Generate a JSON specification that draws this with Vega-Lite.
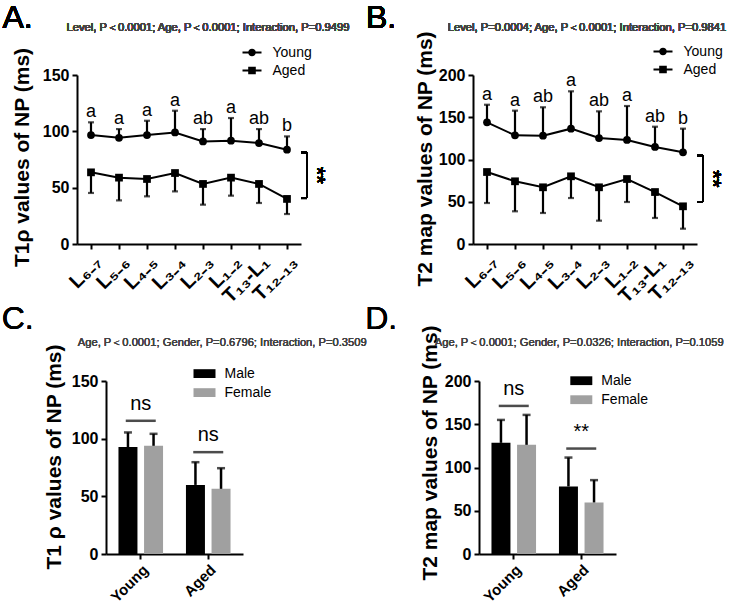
{
  "$schema": "https://vega.github.io/schema/vega-lite/v6.json",
  "background": "white",
  "padding": {"left": 1, "top": 1, "right": 0, "bottom": 0},
  "config": {
    "font": "Liberation Sans",
    "view": {"stroke": null},
    "axis": {"grid": false, "domainColor": "black", "domainWidth": 2, "tickColor": "black", "tickWidth": 2, "tickSize": 5, "labelColor": "black", "titleColor": "black", "labelFont": "Liberation Sans", "titleFont": "Liberation Sans", "labelFontWeight": "bold", "titleFontWeight": "bold", "labelFontSize": 16, "titleFontSize": 21, "labelPadding": 3},
    "legend": {"labelFont": "Liberation Sans", "labelFontSize": 14, "labelColor": "black", "padding": 0},
    "text": {"fontWeight": "normal"}
  },
  "datasets": {
    "lineA": [
      {"level": "L₆₋₇", "group": "Young", "mean": 96.7, "err": 108, "sig": "a"},
      {"level": "L₅₋₆", "group": "Young", "mean": 94.3, "err": 102, "sig": "a"},
      {"level": "L₄₋₅", "group": "Young", "mean": 96.7, "err": 109.4, "sig": "a"},
      {"level": "L₃₋₄", "group": "Young", "mean": 99, "err": 118.3, "sig": "a"},
      {"level": "L₂₋₃", "group": "Young", "mean": 91, "err": 102, "sig": "ab"},
      {"level": "L₁₋₂", "group": "Young", "mean": 91.7, "err": 111.8, "sig": "a"},
      {"level": "T₁₃-L₁", "group": "Young", "mean": 89.6, "err": 102, "sig": "ab"},
      {"level": "T₁₂₋₁₃", "group": "Young", "mean": 83.7, "err": 95.5, "sig": "b"},
      {"level": "L₆₋₇", "group": "Aged", "mean": 63.6, "err": 45.3, "sig": ""},
      {"level": "L₅₋₆", "group": "Aged", "mean": 58.9, "err": 38.7, "sig": ""},
      {"level": "L₄₋₅", "group": "Aged", "mean": 57.7, "err": 42.3, "sig": ""},
      {"level": "L₃₋₄", "group": "Aged", "mean": 63, "err": 46.7, "sig": ""},
      {"level": "L₂₋₃", "group": "Aged", "mean": 53.3, "err": 34.9, "sig": ""},
      {"level": "L₁₋₂", "group": "Aged", "mean": 58.9, "err": 42.9, "sig": ""},
      {"level": "T₁₃-L₁", "group": "Aged", "mean": 53.3, "err": 36.4, "sig": ""},
      {"level": "T₁₂₋₁₃", "group": "Aged", "mean": 40, "err": 26.6, "sig": ""}
    ],
    "lineB": [
      {"level": "L₆₋₇", "group": "Young", "mean": 144, "err": 164.8, "sig": "a"},
      {"level": "L₅₋₆", "group": "Young", "mean": 128.6, "err": 157.8, "sig": "a"},
      {"level": "L₄₋₅", "group": "Young", "mean": 128.2, "err": 161.8, "sig": "ab"},
      {"level": "L₃₋₄", "group": "Young", "mean": 136.5, "err": 180.7, "sig": "a"},
      {"level": "L₂₋₃", "group": "Young", "mean": 125.4, "err": 157, "sig": "ab"},
      {"level": "L₁₋₂", "group": "Young", "mean": 123.1, "err": 163.3, "sig": "a"},
      {"level": "T₁₃-L₁", "group": "Young", "mean": 114.8, "err": 138.8, "sig": "ab"},
      {"level": "T₁₂₋₁₃", "group": "Young", "mean": 108.5, "err": 136.5, "sig": "b"},
      {"level": "L₆₋₇", "group": "Aged", "mean": 85.2, "err": 48.5, "sig": ""},
      {"level": "L₅₋₆", "group": "Aged", "mean": 74.2, "err": 38.7, "sig": ""},
      {"level": "L₄₋₅", "group": "Aged", "mean": 67.1, "err": 36.7, "sig": ""},
      {"level": "L₃₋₄", "group": "Aged", "mean": 80.1, "err": 54.4, "sig": ""},
      {"level": "L₂₋₃", "group": "Aged", "mean": 67.1, "err": 27.6, "sig": ""},
      {"level": "L₁₋₂", "group": "Aged", "mean": 76.9, "err": 49.7, "sig": ""},
      {"level": "T₁₃-L₁", "group": "Aged", "mean": 61.5, "err": 30.8, "sig": ""},
      {"level": "T₁₂₋₁₃", "group": "Aged", "mean": 44.6, "err": 18.1, "sig": ""}
    ],
    "barC": [
      {"age": "Young", "sex": "Male", "mean": 92.7, "err": 105.4},
      {"age": "Young", "sex": "Female", "mean": 93.8, "err": 104.2},
      {"age": "Aged", "sex": "Male", "mean": 59.9, "err": 79.6},
      {"age": "Aged", "sex": "Female", "mean": 56.5, "err": 74.4}
    ],
    "barD": [
      {"age": "Young", "sex": "Male", "mean": 128.5, "err": 155},
      {"age": "Young", "sex": "Female", "mean": 126.2, "err": 160.8},
      {"age": "Aged", "sex": "Male", "mean": 78.1, "err": 111.5},
      {"age": "Aged", "sex": "Female", "mean": 59.6, "err": 85.4}
    ],
    "sigC": [
      {"age": "Young", "y": 115.5, "label": "ns"},
      {"age": "Aged", "y": 88.3, "label": "ns"}
    ],
    "sigD": [
      {"age": "Young", "y": 171.2, "label": "ns"},
      {"age": "Aged", "y": 121.9, "label": "**"}
    ],
    "none": []
  },
  "bounds": "flush",
  "spacing": 306,
  "resolve": {"scale": {"color": "independent", "shape": "independent"}, "legend": {"color": "independent", "shape": "independent"}},
  "vconcat": [
    {
      "bounds": "flush",
      "spacing": 172,
      "resolve": {"scale": {"color": "independent", "shape": "independent"}, "legend": {"color": "independent", "shape": "independent"}},
      "hconcat": [
        {
          "width": 224, "height": 169,
          "data": {"name": "lineA"},
          "resolve": {"scale": {"shape": "independent"}},
          "layer": [
            {"mark": {"type": "line", "color": "black", "strokeWidth": 2},
             "encoding": {
               "x": {"field": "level", "type": "ordinal", "scale": {"type": "point", "domain": ["L₆₋₇", "L₅₋₆", "L₄₋₅", "L₃₋₄", "L₂₋₃", "L₁₋₂", "T₁₃-L₁", "T₁₂₋₁₃"], "padding": 0.5}, "axis": {"title": null, "labelAngle": -45, "labelFontSize": 20}},
               "y": {"field": "mean", "type": "quantitative", "scale": {"domain": [0, 150], "nice": false}, "axis": {"title": "T1ρ values of NP (ms)", "values": [0, 50, 100, 150], "titlePadding": 10, "titleY": 82}},
               "detail": {"field": "group"}}},
            {"mark": {"type": "rule", "color": "black", "strokeWidth": 2.2},
             "encoding": {"x": {"field": "level", "type": "ordinal"}, "y": {"field": "mean", "type": "quantitative"}, "y2": {"field": "err"}}},
            {"mark": {"type": "tick", "orient": "horizontal", "color": "black", "size": 6, "thickness": 2.2},
             "encoding": {"x": {"field": "level", "type": "ordinal"}, "y": {"field": "err", "type": "quantitative"}}},
            {"mark": {"type": "point", "filled": true, "opacity": 1, "color": "black", "size": 60},
             "encoding": {"x": {"field": "level", "type": "ordinal"}, "y": {"field": "mean", "type": "quantitative"},
               "shape": {"field": "group", "type": "nominal", "scale": {"domain": ["Young", "Aged"], "range": ["circle", "square"]}, "legend": null}}},
            {"mark": {"type": "text", "fontSize": 18, "dy": -5, "baseline": "alphabetic", "color": "black"},
             "encoding": {"x": {"field": "level", "type": "ordinal"}, "y": {"field": "err", "type": "quantitative"}, "text": {"field": "sig"}}},
            {"transform": [{"filter": "false"}],
             "mark": {"type": "point", "filled": true, "opacity": 1, "color": "black"},
             "encoding": {"shape": {"field": "group", "type": "nominal", "scale": {"domain": ["Young", "Aged"], "range": ["M-1,-0.1H-0.3V0.1H-1ZM0.3,-0.1H1V0.1H0.3ZM-0.4,0A0.4,0.4,0,1,1,0.4,0A0.4,0.4,0,1,1,-0.4,0Z", "M-1,-0.1H-0.3V0.1H-1ZM0.3,-0.1H1V0.1H0.3ZM-0.4,-0.4H0.4V0.4H-0.4Z"]},
               "legend": {"title": null, "orient": "none", "legendX": 164.5, "legendY": -33, "symbolSize": 361, "labelOffset": 10, "rowPadding": 0}}}},
            {"mark": {"type": "rule", "color": "black", "strokeWidth": 2, "xOffset": 20},
             "encoding": {"x": {"datum": "T₁₂₋₁₃"}, "y": {"datum": 81.3}, "y2": {"datum": 40.8}}},
            {"mark": {"type": "tick", "orient": "horizontal", "color": "black", "size": 6, "thickness": 2, "xOffset": 17},
             "encoding": {"x": {"datum": "T₁₂₋₁₃"}, "y": {"datum": 81.3}}},
            {"mark": {"type": "tick", "orient": "horizontal", "color": "black", "size": 6, "thickness": 2, "xOffset": 17},
             "encoding": {"x": {"datum": "T₁₂₋₁₃"}, "y": {"datum": 40.8}}},
            {"mark": {"type": "text", "text": "**", "angle": 90, "fontSize": 22, "color": "black", "xOffset": 30, "align": "center", "baseline": "middle"},
             "encoding": {"x": {"datum": "T₁₂₋₁₃"}, "y": {"datum": 61}}},
            {"mark": {"type": "text", "text": "Level, P＜0.0001; Age, P＜0.0001; Interaction, P=0.9499", "fontSize": 11.2, "color": "#444", "dx": 5, "dy": -44, "baseline": "alphabetic"},
             "encoding": {"x": {"datum": "L₂₋₃"}, "y": {"datum": 150}}},
            {"mark": {"type": "text", "text": "A.", "fontSize": 32, "color": "black", "align": "left", "baseline": "alphabetic", "dx": -88.5, "dy": -47.3},
             "encoding": {"x": {"datum": "L₆₋₇"}, "y": {"datum": 150}}}
          ]
        },
        {
          "width": 224, "height": 169,
          "data": {"name": "lineB"},
          "resolve": {"scale": {"shape": "independent"}},
          "layer": [
            {"mark": {"type": "line", "color": "black", "strokeWidth": 2},
             "encoding": {
               "x": {"field": "level", "type": "ordinal", "scale": {"type": "point", "domain": ["L₆₋₇", "L₅₋₆", "L₄₋₅", "L₃₋₄", "L₂₋₃", "L₁₋₂", "T₁₃-L₁", "T₁₂₋₁₃"], "padding": 0.5}, "axis": {"title": null, "labelAngle": -45, "labelFontSize": 20}},
               "y": {"field": "mean", "type": "quantitative", "scale": {"domain": [0, 200], "nice": false}, "axis": {"title": "T2 map values of NP (ms)", "values": [0, 50, 100, 150, 200], "titlePadding": 3, "titleY": 83.5}},
               "detail": {"field": "group"}}},
            {"mark": {"type": "rule", "color": "black", "strokeWidth": 2.2},
             "encoding": {"x": {"field": "level", "type": "ordinal"}, "y": {"field": "mean", "type": "quantitative"}, "y2": {"field": "err"}}},
            {"mark": {"type": "tick", "orient": "horizontal", "color": "black", "size": 6, "thickness": 2.2},
             "encoding": {"x": {"field": "level", "type": "ordinal"}, "y": {"field": "err", "type": "quantitative"}}},
            {"mark": {"type": "point", "filled": true, "opacity": 1, "color": "black", "size": 60},
             "encoding": {"x": {"field": "level", "type": "ordinal"}, "y": {"field": "mean", "type": "quantitative"},
               "shape": {"field": "group", "type": "nominal", "scale": {"domain": ["Young", "Aged"], "range": ["circle", "square"]}, "legend": null}}},
            {"mark": {"type": "text", "fontSize": 18, "dy": -5, "baseline": "alphabetic", "color": "black"},
             "encoding": {"x": {"field": "level", "type": "ordinal"}, "y": {"field": "err", "type": "quantitative"}, "text": {"field": "sig"}}},
            {"transform": [{"filter": "false"}],
             "mark": {"type": "point", "filled": true, "opacity": 1, "color": "black"},
             "encoding": {"shape": {"field": "group", "type": "nominal", "scale": {"domain": ["Young", "Aged"], "range": ["M-1,-0.1H-0.3V0.1H-1ZM0.3,-0.1H1V0.1H0.3ZM-0.4,0A0.4,0.4,0,1,1,0.4,0A0.4,0.4,0,1,1,-0.4,0Z", "M-1,-0.1H-0.3V0.1H-1ZM0.3,-0.1H1V0.1H0.3ZM-0.4,-0.4H0.4V0.4H-0.4Z"]},
               "legend": {"title": null, "orient": "none", "legendX": 179.5, "legendY": -34, "symbolSize": 361, "labelOffset": 10, "rowPadding": 0}}}},
            {"mark": {"type": "rule", "color": "black", "strokeWidth": 2, "xOffset": 20},
             "encoding": {"x": {"datum": "T₁₂₋₁₃"}, "y": {"datum": 104.5}, "y2": {"datum": 49.7}}},
            {"mark": {"type": "tick", "orient": "horizontal", "color": "black", "size": 6, "thickness": 2, "xOffset": 17},
             "encoding": {"x": {"datum": "T₁₂₋₁₃"}, "y": {"datum": 104.5}}},
            {"mark": {"type": "tick", "orient": "horizontal", "color": "black", "size": 6, "thickness": 2, "xOffset": 17},
             "encoding": {"x": {"datum": "T₁₂₋₁₃"}, "y": {"datum": 49.7}}},
            {"mark": {"type": "text", "text": "**", "angle": 90, "fontSize": 22, "color": "black", "xOffset": 30, "align": "center", "baseline": "middle"},
             "encoding": {"x": {"datum": "T₁₂₋₁₃"}, "y": {"datum": 77}}},
            {"mark": {"type": "text", "text": "Level, P=0.0004; Age, P＜0.0001; Interaction, P=0.9841", "fontSize": 11.2, "color": "#444", "dx": -12, "dy": -44.3, "baseline": "alphabetic"},
             "encoding": {"x": {"datum": "L₂₋₃"}, "y": {"datum": 200}}},
            {"mark": {"type": "text", "text": "B.", "fontSize": 32, "color": "black", "align": "left", "baseline": "alphabetic", "dx": -121, "dy": -47.3},
             "encoding": {"x": {"datum": "L₆₋₇"}, "y": {"datum": 200}}}
          ]
        }
      ]
    },
    {
      "bounds": "flush",
      "spacing": 0,
      "resolve": {"scale": {"color": "independent", "shape": "independent"}, "legend": {"color": "independent", "shape": "independent"}},
      "hconcat": [
        {"width": 29, "height": 1, "data": {"name": "none"}, "mark": "point"},
        {
          "width": 137, "height": 173,
          "data": {"name": "barC"},
          "layer": [
            {"mark": {"type": "bar"},
             "encoding": {
               "x": {"field": "age", "type": "nominal", "scale": {"domain": ["Young", "Aged"], "paddingInner": 0.3, "paddingOuter": 0.165}, "axis": {"title": null, "labelAngle": -45, "labelFontSize": 15}},
               "xOffset": {"field": "sex", "type": "nominal", "scale": {"domain": ["Male", "Female"], "paddingInner": 0.258, "paddingOuter": 0.052}},
               "y": {"field": "mean", "type": "quantitative", "scale": {"domain": [0, 150], "nice": false}, "axis": {"title": "T1 ρ values of NP (ms)", "values": [0, 50, 100, 150], "titlePadding": 7, "titleY": 75.5}},
               "color": {"field": "sex", "type": "nominal", "scale": {"domain": ["Male", "Female"], "range": ["#000000", "#a0a0a0"]},
                 "legend": {"title": null, "orient": "none", "legendX": 86.5, "legendY": -19.4, "symbolType": "M-1,-0.4H1V0.4H-1Z", "symbolSize": 484, "labelOffset": 8, "rowPadding": 0}}}},
            {"mark": {"type": "rule", "color": "black", "strokeWidth": 2.5},
             "encoding": {"x": {"field": "age", "type": "nominal"}, "xOffset": {"field": "sex", "type": "nominal"}, "y": {"field": "mean", "type": "quantitative"}, "y2": {"field": "err"}}},
            {"mark": {"type": "tick", "orient": "horizontal", "color": "black", "size": 8, "thickness": 2.5},
             "encoding": {"x": {"field": "age", "type": "nominal"}, "xOffset": {"field": "sex", "type": "nominal"}, "y": {"field": "err", "type": "quantitative"}}},
            {"data": {"name": "sigC"},
             "mark": {"type": "tick", "orient": "horizontal", "color": "black", "size": 30, "thickness": 2.5},
             "encoding": {"x": {"field": "age", "type": "nominal"}, "y": {"field": "y", "type": "quantitative"}}},
            {"data": {"name": "sigC"},
             "mark": {"type": "text", "fontSize": 20, "dy": -11, "baseline": "alphabetic", "color": "black"},
             "encoding": {"x": {"field": "age", "type": "nominal"}, "y": {"field": "y", "type": "quantitative"}, "text": {"field": "label"}}},
            {"mark": {"type": "text", "text": "Age, P＜0.0001; Gender, P=0.6796; Interaction, P=0.3509", "fontSize": 11.2, "color": "#444", "dx": 14, "dy": -35.3, "baseline": "alphabetic"},
             "encoding": {"x": {"datum": "Aged"}, "y": {"datum": 150}}},
            {"mark": {"type": "text", "text": "C.", "fontSize": 32, "color": "black", "align": "left", "baseline": "alphabetic", "dx": -139, "dy": -52},
             "encoding": {"x": {"datum": "Young"}, "y": {"datum": 150}}}
          ]
        },
        {"width": 236, "height": 1, "data": {"name": "none"}, "mark": "point"},
        {
          "width": 137, "height": 173,
          "data": {"name": "barD"},
          "layer": [
            {"mark": {"type": "bar"},
             "encoding": {
               "x": {"field": "age", "type": "nominal", "scale": {"domain": ["Young", "Aged"], "paddingInner": 0.3, "paddingOuter": 0.165}, "axis": {"title": null, "labelAngle": -45, "labelFontSize": 15}},
               "xOffset": {"field": "sex", "type": "nominal", "scale": {"domain": ["Male", "Female"], "paddingInner": 0.258, "paddingOuter": 0.052}},
               "y": {"field": "mean", "type": "quantitative", "scale": {"domain": [0, 200], "nice": false}, "axis": {"title": "T2 map values of NP (ms)", "values": [0, 50, 100, 150, 200], "titlePadding": 4, "titleY": 71.5}},
               "color": {"field": "sex", "type": "nominal", "scale": {"domain": ["Male", "Female"], "range": ["#000000", "#a0a0a0"]},
                 "legend": {"title": null, "orient": "none", "legendX": 90.3, "legendY": -12.3, "symbolType": "M-1,-0.4H1V0.4H-1Z", "symbolSize": 484, "labelOffset": 8, "rowPadding": 0}}}},
            {"mark": {"type": "rule", "color": "black", "strokeWidth": 2.5},
             "encoding": {"x": {"field": "age", "type": "nominal"}, "xOffset": {"field": "sex", "type": "nominal"}, "y": {"field": "mean", "type": "quantitative"}, "y2": {"field": "err"}}},
            {"mark": {"type": "tick", "orient": "horizontal", "color": "black", "size": 8, "thickness": 2.5},
             "encoding": {"x": {"field": "age", "type": "nominal"}, "xOffset": {"field": "sex", "type": "nominal"}, "y": {"field": "err", "type": "quantitative"}}},
            {"data": {"name": "sigD"},
             "mark": {"type": "tick", "orient": "horizontal", "color": "black", "size": 30, "thickness": 2.5},
             "encoding": {"x": {"field": "age", "type": "nominal"}, "y": {"field": "y", "type": "quantitative"}}},
            {"data": {"name": "sigD"},
             "mark": {"type": "text", "fontSize": 20, "dy": -11, "baseline": "alphabetic", "color": "black"},
             "encoding": {"x": {"field": "age", "type": "nominal"}, "y": {"field": "y", "type": "quantitative"}, "text": {"field": "label"}}},
            {"mark": {"type": "text", "text": "Age, P＜0.0001; Gender, P=0.0326; Interaction, P=0.1059", "fontSize": 11.2, "color": "#444", "dx": -2, "dy": -35.3, "baseline": "alphabetic"},
             "encoding": {"x": {"datum": "Aged"}, "y": {"datum": 200}}},
            {"mark": {"type": "text", "text": "D.", "fontSize": 32, "color": "black", "align": "left", "baseline": "alphabetic", "dx": -148.5, "dy": -52},
             "encoding": {"x": {"datum": "Young"}, "y": {"datum": 200}}}
          ]
        }
      ]
    }
  ]
}
